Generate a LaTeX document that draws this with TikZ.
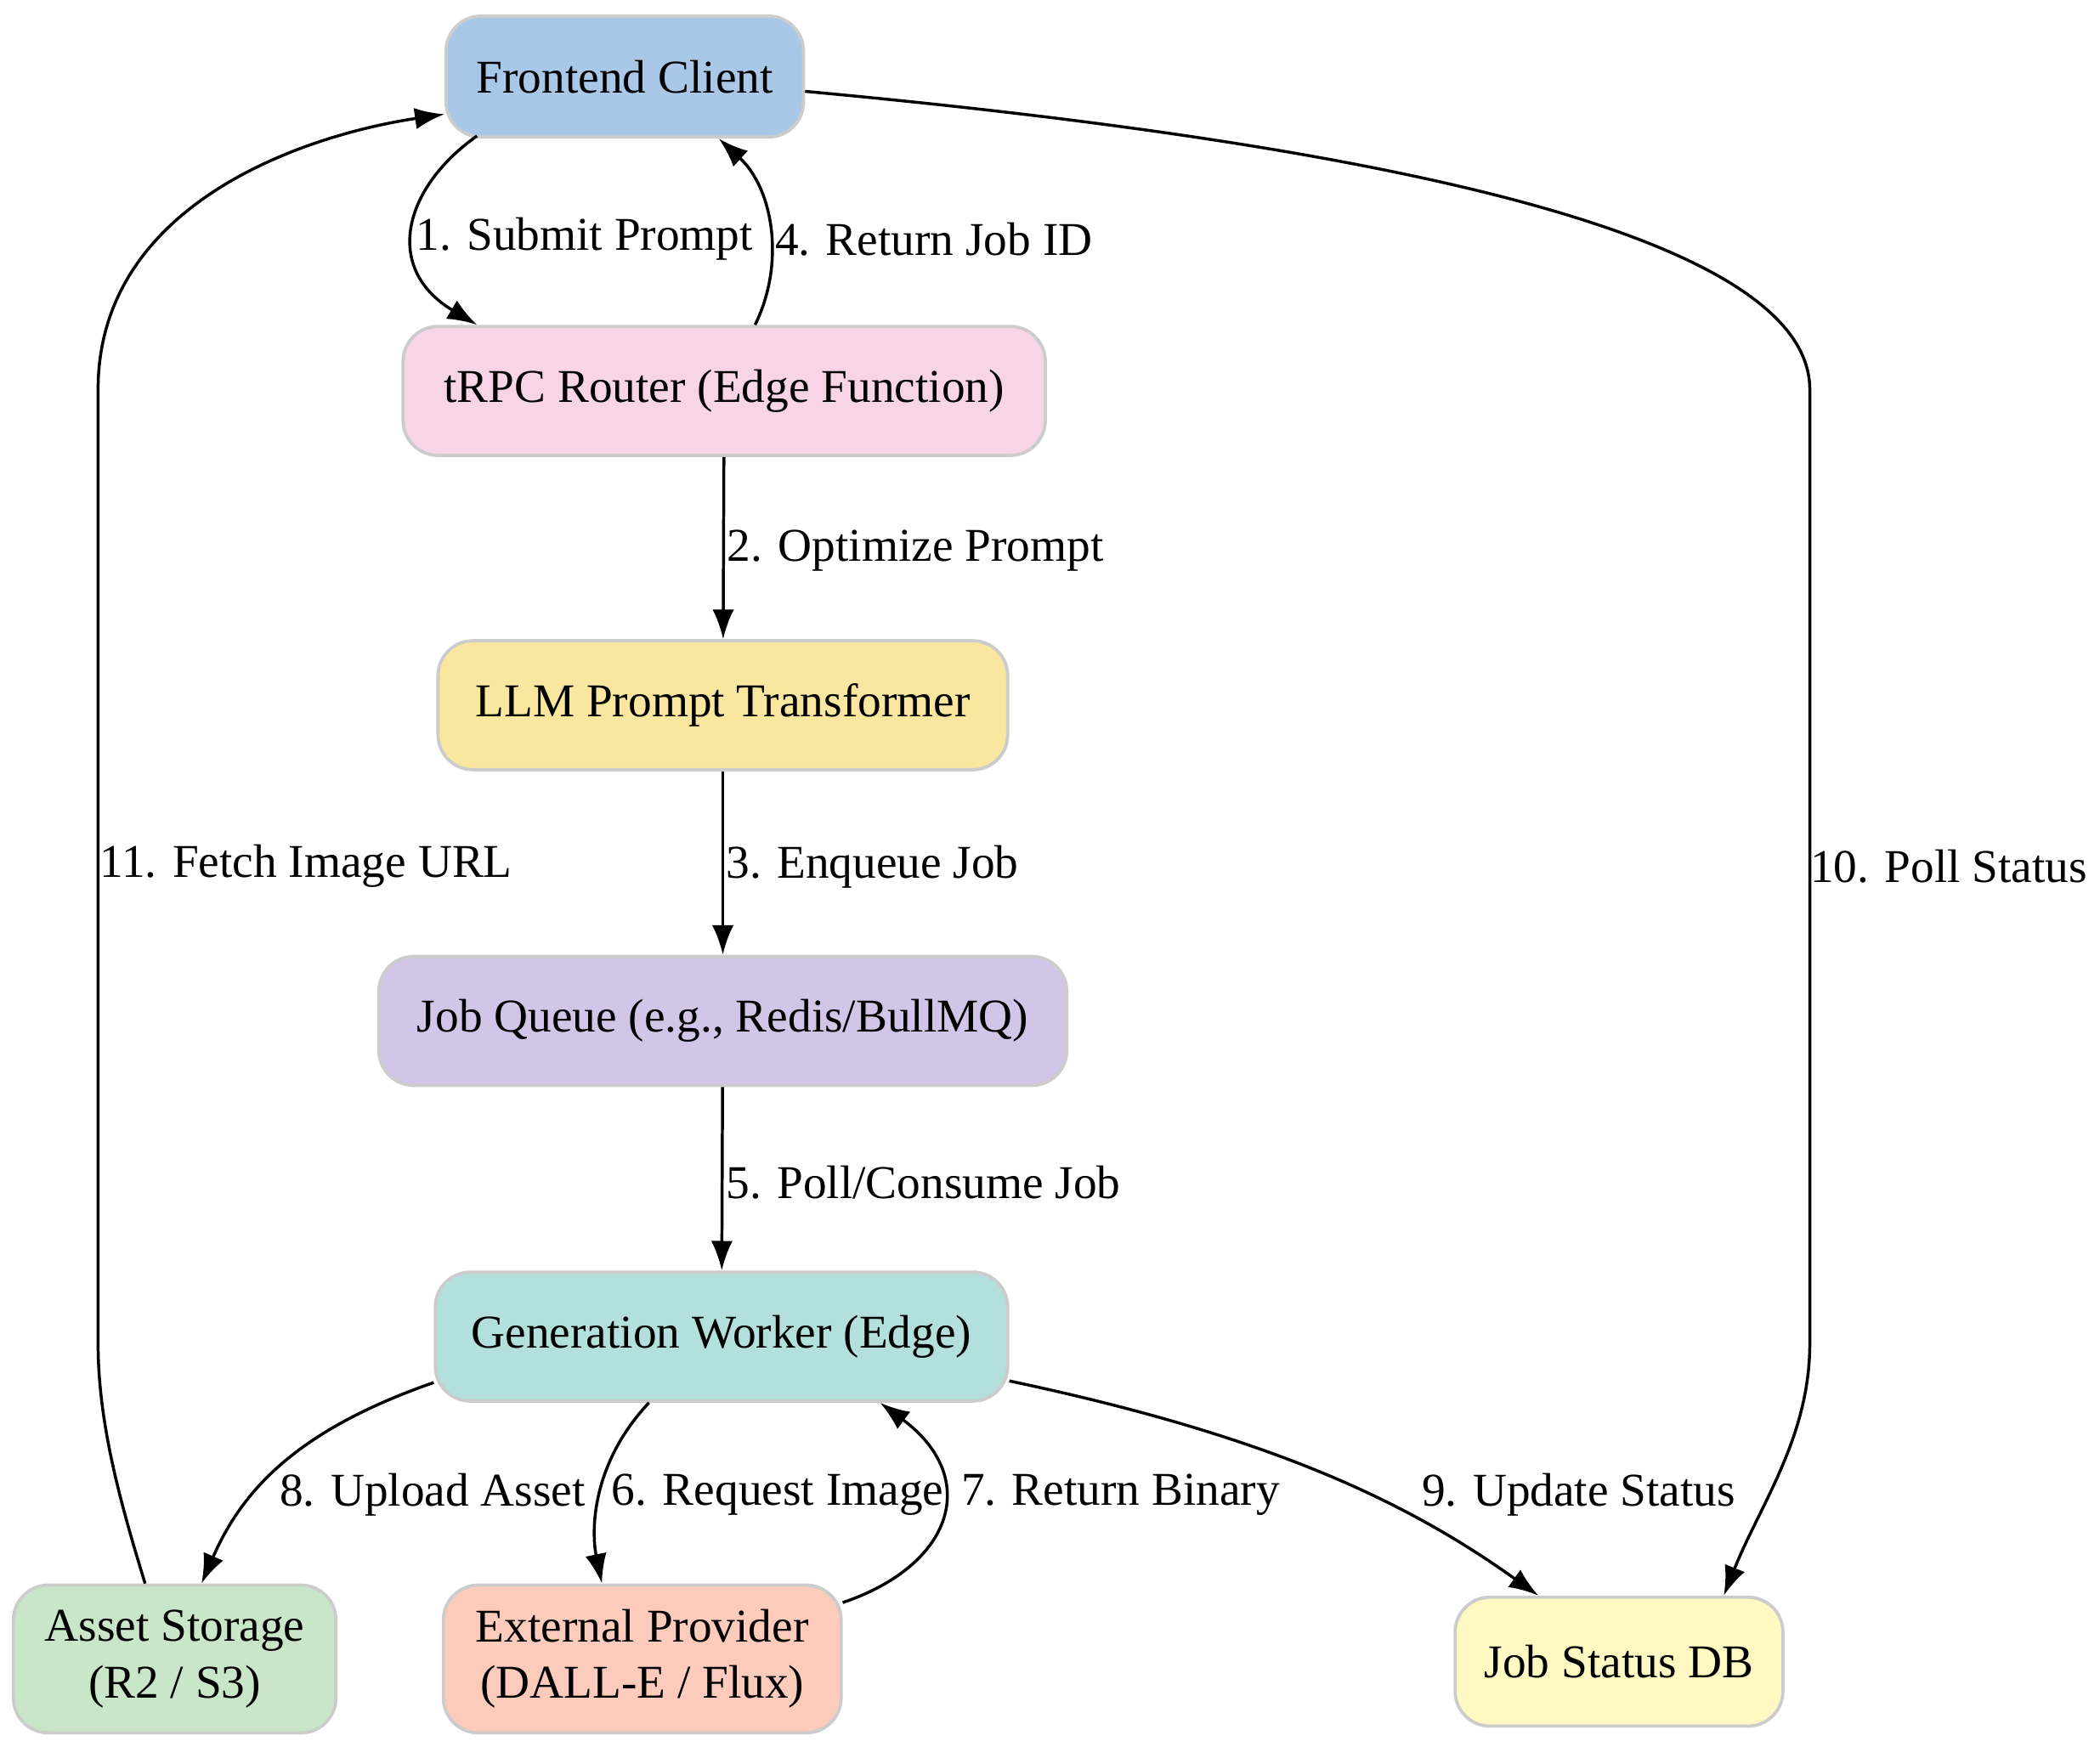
\documentclass[tikz,border=0pt]{standalone}
\usepackage{fontspec}
\setmainfont{Liberation Serif}
\usetikzlibrary{arrows.meta}
\begin{document}
\begin{tikzpicture}[x=0.5pt,y=-0.5pt,
 box/.style={draw=black!20,line width=1.2pt,rounded corners=13pt,align=center,inner sep=0pt,font=\fontsize{17.5}{21}\selectfont},
 e/.style={-{Latex[length=11pt,width=8pt]},line width=1.1pt},
 lab/.style={font=\fontsize{17.5}{21}\selectfont,inner sep=1pt}]
\useasboundingbox (0,0) rectangle (1563,1296);
\node[box,fill={rgb,255:red,169;green,200;blue,232},minimum width=133pt,minimum height=45pt] (fc) at (465,57) {Frontend Client};
\node[box,fill={rgb,255:red,248;green,213;blue,230},minimum width=239pt,minimum height=48pt] (tr) at (539,291) {tRPC Router (Edge Function)};
\node[box,fill={rgb,255:red,249;green,231;blue,159},minimum width=212pt,minimum height=48pt] (llm) at (538,525) {LLM Prompt Transformer};
\node[box,fill={rgb,255:red,210;green,197;blue,232},minimum width=256pt,minimum height=48pt] (jq) at (538,760) {Job Queue (e.g., Redis/BullMQ)};
\node[box,fill={rgb,255:red,179;green,224;blue,220},minimum width=213pt,minimum height=48pt] (gw) at (537,995) {Generation Worker (Edge)};
\node[box,fill={rgb,255:red,201;green,230;blue,201},minimum width=120pt,minimum height=55pt] (as) at (130,1235) {Asset Storage\\(R2 / S3)};
\node[box,fill={rgb,255:red,253;green,203;blue,187},minimum width=148pt,minimum height=55pt] (ep) at (478,1235) {External Provider\\(DALL-E / Flux)};
\node[box,fill={rgb,255:red,254;green,249;blue,195},minimum width=122pt,minimum height=48pt] (js) at (1205,1237) {Job Status DB};

\draw[e] ([xshift=-55pt,yshift=1pt]fc.south) .. controls (300,140) and (285,200) .. ([xshift=-92pt]tr.north);
\node[lab] at (435,178) {1. Submit Prompt};
\draw[e] ([xshift=11.5pt]tr.north) .. controls (585,195) and (575,140) .. ([xshift=35pt]fc.south);
\node[lab] at (695,178) {4. Return Job ID};
\draw[e] (tr) -- (llm);
\node[lab,anchor=west] at (539,410) {2. Optimize Prompt};
\draw[e] (llm) -- (jq);
\node[lab,anchor=west] at (538,645) {3. Enqueue Job};
\draw[e] (jq) -- (gw);
\node[lab,anchor=west] at (538,880) {5. Poll/Consume Job};
\draw[e] ([yshift=7.5pt]gw.south west) .. controls (220,1065) and (180,1110) .. ([xshift=10pt]as.north);
\node[lab] at (322,1113) {8. Upload Asset};
\draw[e] ([xshift=-27pt]gw.south) .. controls (440,1090) and (440,1140) .. ([xshift=-15pt]ep.north);
\node[lab,anchor=west] at (453,1113) {6. Request Image};
\draw[e] ([yshift=21pt]ep.east) .. controls (710,1165) and (730,1100) .. ([xshift=59pt]gw.south);
\node[lab,anchor=west] at (713,1113) {7. Return Binary};
\draw[e] ([yshift=-16.5pt]gw.east) .. controls (950,1070) and (1050,1120) .. ([xshift=-30pt]js.north);
\node[lab] at (1175,1113) {9. Update Status};
\draw[e] ([yshift=-5.5pt]fc.east) .. controls (1000,105) and (1347,170) .. (1347,290) -- (1347,1000) .. controls (1347,1070) and (1310,1120) .. ([xshift=39pt]js.north);
\node[lab,anchor=west] at (1345,645) {10. Poll Status};
\draw[e] ([xshift=-11pt]as.north) .. controls (90,1120) and (73,1060) .. (73,1000) -- (73,290) .. controls (73,150) and (230,100) .. ([yshift=-14pt]fc.west);
\node[lab,anchor=west] at (72,645) {11. Fetch Image URL};
\end{tikzpicture}
\end{document}
